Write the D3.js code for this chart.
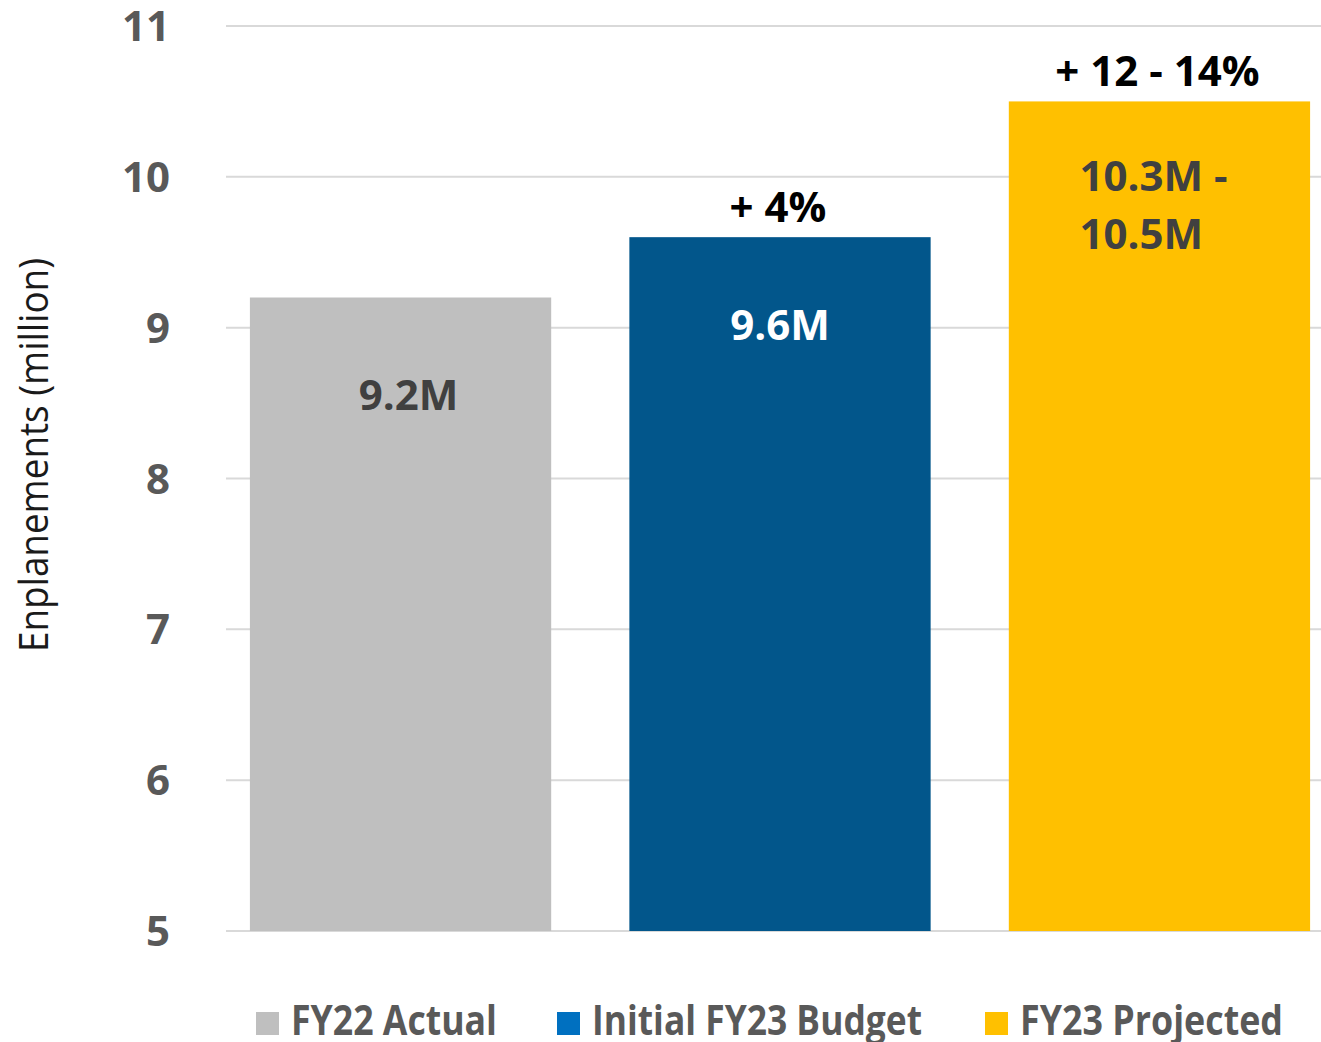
<!DOCTYPE html>
<html>
<head>
<meta charset="utf-8">
<script src="https://cdn.jsdelivr.net/npm/d3@7"></script>
<style>
  body { margin: 0; background: #fff; }
  text { font-family: "Open Sans", sans-serif; }
</style>
</head>
<body>
<div id="wrapper"></div>
<script>
// data
const categories = ["FY22 Actual", "Initial FY23 Budget", "FY23 Projected"]
const values = [9.2, 9.6, 10.5]
const valueLabels = [["9.2M"], ["9.6M"], ["10.3M -", "10.5M"]]
const growthLabels = ["", "+ 4%", "+ 12 - 14%"]
const yTicks = [5, 6, 7, 8, 9, 10, 11]

const barColors = ["#bfbfbf", "#02568b", "#ffc000"]
const legendColors = ["#bfbfbf", "#0070c0", "#ffc000"]
const labelColors = ["#404040", "#ffffff", "#404040"]

const width = 1321
const height = 1042

const svg = d3.select("#wrapper").append("svg")
    .attr("width", width)
    .attr("height", height)

const y = d3.scaleLinear().domain([5, 11]).range([931, 26])
const x = d3.scaleBand()
    .domain(categories)
    .range([226, 1334])
    .paddingInner(0.206)
    .paddingOuter(0.063)

// gridlines
svg.append("g").selectAll("line")
  .data(yTicks)
  .join("line")
    .attr("x1", 226)
    .attr("x2", width)
    .attr("y1", d => y(d))
    .attr("y2", d => y(d))
    .attr("stroke", "#d9d9d9")
    .attr("stroke-width", 2)

// tick labels
svg.append("g").selectAll("text")
  .data(yTicks)
  .join("text")
    .attr("x", 170)
    .attr("y", d => y(d))
    .attr("dy", "0.36em")
    .attr("text-anchor", "end")
    .attr("fill", "#595959")
    .attr("font-size", 42)
    .attr("font-weight", 700)
    .text(d => d)

// axis title
svg.append("text")
    .attr("transform", "translate(48, 455) rotate(-90)")
    .attr("text-anchor", "middle")
    .attr("fill", "#1a1a1a")
    .attr("font-size", 40)
    .attr("textLength", 394)
    .attr("lengthAdjust", "spacingAndGlyphs")
    .text("Enplanements (million)")

// bars
svg.append("g").selectAll("rect")
  .data(values)
  .join("rect")
    .attr("x", (d, i) => x(categories[i]))
    .attr("y", d => y(d))
    .attr("width", x.bandwidth())
    .attr("height", d => y(5) - y(d))
    .attr("fill", (d, i) => barColors[i])

// value labels inside bars
const labelOffsets = [112, 103, 90]
const labelShift = [8, 0, 0]
values.forEach((v, i) => {
  const cx = x(categories[i]) + x.bandwidth() / 2 + labelShift[i]
  const lines = valueLabels[i]
  const t = svg.append("text")
      .attr("fill", labelColors[i])
      .attr("font-size", 42)
      .attr("font-weight", 700)
  lines.forEach((line, j) => {
    t.append("tspan")
      .attr("x", lines.length > 1 ? cx - 80 : cx)
      .attr("y", y(v) + labelOffsets[i] + j * 58)
      .attr("text-anchor", lines.length > 1 ? "start" : "middle")
      .text(line)
  })
})

// growth labels above bars
svg.append("g").selectAll("text")
  .data(growthLabels)
  .join("text")
    .attr("x", (d, i) => x(categories[i]) + x.bandwidth() / 2 - 2)
    .attr("y", (d, i) => y(values[i]) - 15)
    .attr("text-anchor", "middle")
    .attr("fill", "#000")
    .attr("font-size", 42)
    .attr("font-weight", 700)
    .text(d => d)

// legend
const legendX = [256, 557, 985]
const legendW = [206, 330, 263]
const legend = svg.append("g")
categories.forEach((c, i) => {
  legend.append("rect")
    .attr("x", legendX[i])
    .attr("y", 1012)
    .attr("width", 23)
    .attr("height", 23)
    .attr("fill", legendColors[i])
  legend.append("text")
    .attr("x", legendX[i] + 35)
    .attr("y", 1035)
    .attr("fill", "#595959")
    .attr("font-size", 41)
    .attr("font-weight", 700)
    .attr("textLength", legendW[i])
    .attr("lengthAdjust", "spacingAndGlyphs")
    .text(c)
})
</script>
</body>
</html>
